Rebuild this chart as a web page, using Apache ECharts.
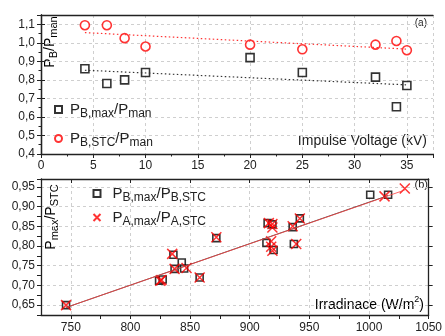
<!DOCTYPE html>
<html>
<head>
<meta charset="utf-8">
<script src="https://cdn.jsdelivr.net/npm/echarts@6/dist/echarts.min.js"></script>
<style>
html, body { margin: 0; padding: 0; background: #fff; }
#chart { width: 445px; height: 336px; }
</style>
</head>
<body>
<div id="chart"></div>
<script>
// 上图：冲击电压
var voltage = [4.2, 6.3, 8, 10, 20, 25, 32, 34, 35];
var pbMaxRatio = [0.86, 0.78, 0.80, 0.84, 0.92, 0.84, 0.815, 0.655, 0.77];
var pbStcRatio = [1.095, 1.095, 1.025, 0.98, 0.99, 0.965, 0.99, 1.01, 0.96];
var fitVoltX = [4.2, 35];
var fitMaxY = [0.852, 0.773];
var fitStcY = [1.055, 0.966];

// 下图：辐照度
var irrB = [746, 824, 827, 836, 837, 843, 845, 858, 872, 915, 919, 914, 920, 936, 942, 937, 1001, 1016];
var ratioB = [0.650, 0.712, 0.715, 0.778, 0.742, 0.758, 0.743, 0.720, 0.820, 0.858, 0.855, 0.808, 0.790, 0.848, 0.870, 0.805, 0.930, 0.930];
var irrA = [746, 825, 826, 835, 837, 847, 858, 872, 916, 919, 919, 918, 918, 919, 936, 942, 939, 1013, 1030];
var ratioA = [0.650, 0.712, 0.714, 0.780, 0.742, 0.744, 0.720, 0.822, 0.858, 0.856, 0.847, 0.812, 0.798, 0.788, 0.850, 0.870, 0.805, 0.926, 0.946];
var fitBX = [746, 1016];
var fitBY = [0.644, 0.928];
var fitAX = [746, 1030];
var fitAY = [0.644, 0.942];

// 刻度
var irrTicks = [750, 800, 850, 900, 950, 1000, 1050];
var ratioTicks = [0.65, 0.70, 0.75, 0.80, 0.85, 0.90, 0.95];

var FONT = 'Liberation Sans';
var TXT = '#222';

function zip(xs, ys) {
	var out = [];
	for (var i = 0; i < xs.length; i++) {
		out.push([xs[i], ys[i]]);
	}
	return out;
}
function comma(v, d) {
	return v.toFixed(d).replace('.', ',');
}
function isStep(v, step) {
	var k = v / step;
	return Math.abs(k - Math.round(k)) < 1e-6;
}

//图例文字（带下标）
var richLegend = {
	g: { width: 3 },
	w: { width: 7 },
	n: { fontSize: 15, fontFamily: FONT, color: TXT },
	s: { fontSize: 12, fontFamily: FONT, color: TXT, padding: [9, 0, 0, 0] }
};
//坐标轴名称（竖排）
var richName = {
	n: { fontSize: 14, fontFamily: FONT, color: TXT },
	s: { fontSize: 11, fontFamily: FONT, color: TXT, padding: [8, 0, 0, 0] }
};
var legendText = {
	'PB,max/Pman': '{g|}{n|P}{s|B,max}{n|/P}{s|man}',
	'PB,STC/Pman': '{g|}{n|P}{s|B,STC}{n|/P}{s|man}',
	'PB,max/PB,STC': '{w|}{n|P}{s|B,max}{n|/P}{s|B,STC}',
	'PA,max/PA,STC': '{w|}{n|P}{s|A,max}{n|/P}{s|A,STC}'
};

var gridLine = { show: true, lineStyle: { color: ['transparent', '#cfcfcf'], type: [3, 3], width: 1 } };
var gridLineTop = { show: true, lineStyle: { color: '#cfcfcf', type: [3, 3], width: 1 } };
var lineAx = { show: true, lineStyle: { color: TXT, width: 1.3 } };
var labelBase = { fontSize: 12, fontFamily: FONT, color: TXT };

var squareStyle = { color: '#fff', borderColor: '#000', borderWidth: 1.6 };
var crossPath = 'path://M0,0L10,10M10,0L0,10';

var myChart = echarts.init(document.getElementById('chart'));
var option = {
	animation: false,
	grid: [
		{ left: 41, right: 12, top: 15, height: 139 },
		{ left: 41, right: 12, top: 179, height: 136 }
	],
	xAxis: [{
		gridIndex: 0, type: 'value', min: 0, max: 37.5, interval: 5,
		axisLine: lineAx,
		axisTick: { show: true, length: 4, lineStyle: { color: TXT } },
		minorTick: { show: true, splitNumber: 2, length: 2.5, lineStyle: { color: TXT } },
		axisLabel: Object.assign({ margin: 6, showMaxLabel: false }, labelBase),
		splitLine: gridLineTop
	}, {
		gridIndex: 0, type: 'value', position: 'top', min: 0, max: 37.5, interval: 5,
		axisLine: lineAx, axisTick: { show: false }, axisLabel: { show: false }, splitLine: { show: false }
	}, {
		gridIndex: 1, type: 'value', min: 725, max: 1050, interval: 25,
		axisLine: lineAx,
		axisTick: { show: true, length: 4, lineStyle: { color: TXT } },
		axisLabel: Object.assign({
			margin: 7, showMinLabel: false,
			formatter: function(v) { return isStep(v, 50) ? String(v) : ''; }
		}, labelBase),
		splitLine: gridLine
	}, {
		gridIndex: 1, type: 'value', position: 'top', min: 725, max: 1050,
		axisLine: lineAx,
		axisTick: { show: true, inside: true, length: 4, customValues: irrTicks, lineStyle: { color: TXT } },
		axisLabel: { show: false }, splitLine: { show: false }
	}],
	yAxis: [{
		gridIndex: 0, type: 'value', min: 0.4, max: 1.15, interval: 0.1,
		axisLine: lineAx,
		axisTick: { show: true, length: 4, lineStyle: { color: TXT } },
		minorTick: { show: true, splitNumber: 2, length: 2.5, lineStyle: { color: TXT } },
		axisLabel: Object.assign({
			margin: 6, showMaxLabel: false,
			formatter: function(v) { return comma(v, 1); }
		}, labelBase),
		splitLine: gridLineTop
	}, {
		gridIndex: 0, type: 'value', position: 'right', min: 0.4, max: 1.15, interval: 0.1,
		axisLine: lineAx,
		axisTick: { show: true, length: 4, lineStyle: { color: TXT } },
		axisLabel: { show: false }, splitLine: { show: false }
	}, {
		gridIndex: 1, type: 'value', min: 0.625, max: 0.97, interval: 0.025,
		axisLine: lineAx,
		axisTick: { show: true, length: 4, lineStyle: { color: TXT } },
		axisLabel: Object.assign({
			margin: 6,
			formatter: function(v) { return isStep(v, 0.05) ? comma(v, 2) : ''; }
		}, labelBase),
		splitLine: gridLine
	}, {
		gridIndex: 1, type: 'value', position: 'right', min: 0.625, max: 0.97,
		axisLine: lineAx,
		axisTick: { show: true, length: 4, customValues: ratioTicks, lineStyle: { color: TXT } },
		axisLabel: { show: false }, splitLine: { show: false }
	}],
	legend: [{
		data: ['PB,max/Pman', 'PB,STC/Pman'],
		orient: 'vertical', left: 49, top: 97, itemGap: 11,
		itemWidth: 7, itemHeight: 7,
		formatter: function(name) { return legendText[name]; },
		textStyle: { rich: richLegend }
	}, {
		data: ['PB,max/PB,STC', 'PA,max/PA,STC'],
		orient: 'vertical', left: 86, top: 181, itemGap: 6,
		itemWidth: 7, itemHeight: 7,
		formatter: function(name) { return legendText[name]; },
		textStyle: { rich: richLegend }
	}],
	graphic: [{
		type: 'text', x: 50, y: 42, rotation: Math.PI / 2,
		style: { text: '{n|P}{s|B}{n|/P}{s|man}', rich: richName, align: 'center', verticalAlign: 'middle' }
	}, {
		type: 'text', x: 51, y: 217, rotation: Math.PI / 2,
		style: { text: '{n|P}{s|max}{n|/P}{s|STC}', rich: richName, align: 'center', verticalAlign: 'middle' }
	}, {
		type: 'text', x: 427, y: 141,
		style: { text: 'Impulse Voltage (kV)', font: '14px "' + FONT + '"', fill: TXT, align: 'right', verticalAlign: 'middle' }
	}, {
		type: 'text', x: 424, y: 303,
		style: {
			text: '{n|Irradinace (W/m}{p|2}{n|)}', align: 'right', verticalAlign: 'middle',
			rich: {
				n: { fontSize: 14, fontFamily: FONT, color: TXT, padding: [4, 0, 0, 0] },
				p: { fontSize: 9, fontFamily: FONT, color: TXT, padding: [0, 0, 6, 0] }
			}
		}
	}, {
		type: 'text', x: 427, y: 23,
		style: { text: '(a)', font: '10px "' + FONT + '"', fill: TXT, align: 'right', verticalAlign: 'middle' }
	}, {
		type: 'text', x: 428, y: 185,
		style: { text: '(b)', font: '11px "' + FONT + '"', fill: TXT, align: 'right', verticalAlign: 'middle' }
	}],
	series: [{
		name: 'fitMax', type: 'line', xAxisIndex: 0, yAxisIndex: 0,
		data: zip(fitVoltX, fitMaxY), symbol: 'none', silent: true,
		lineStyle: { color: '#333', width: 1.2, type: [1.5, 2.5] }
	}, {
		name: 'fitStc', type: 'line', xAxisIndex: 0, yAxisIndex: 0,
		data: zip(fitVoltX, fitStcY), symbol: 'none', silent: true,
		lineStyle: { color: '#ff3030', width: 1.2, type: [1.5, 2.5] }
	}, {
		name: 'PB,max/Pman', type: 'scatter', xAxisIndex: 0, yAxisIndex: 0,
		data: zip(voltage, pbMaxRatio), symbol: 'rect', symbolSize: 8,
		itemStyle: squareStyle
	}, {
		name: 'PB,STC/Pman', type: 'scatter', xAxisIndex: 0, yAxisIndex: 0,
		data: zip(voltage, pbStcRatio), symbol: 'circle', symbolSize: 9,
		itemStyle: { color: '#fff', borderColor: '#ff0000', borderWidth: 1.6 }
	}, {
		name: 'fitB', type: 'line', xAxisIndex: 2, yAxisIndex: 2,
		data: zip(fitBX, fitBY), symbol: 'none', silent: true,
		lineStyle: { color: '#222', width: 0.8 }
	}, {
		name: 'fitA', type: 'line', xAxisIndex: 2, yAxisIndex: 2,
		data: zip(fitAX, fitAY), symbol: 'none', silent: true,
		lineStyle: { color: '#ff4040', width: 0.8 }
	}, {
		name: 'PB,max/PB,STC', type: 'scatter', xAxisIndex: 2, yAxisIndex: 2,
		data: zip(irrB, ratioB), symbol: 'rect', symbolSize: 7,
		itemStyle: squareStyle
	}, {
		name: 'PA,max/PA,STC', type: 'scatter', xAxisIndex: 2, yAxisIndex: 2,
		data: zip(irrA, ratioA), symbol: crossPath, symbolSize: 10,
		itemStyle: { color: 'none', borderColor: '#ff0000', borderWidth: 1.5 }
	}]
};
myChart.setOption(option);
window.onresize = function() {
	myChart.resize();
};
</script>
</body>
</html>
